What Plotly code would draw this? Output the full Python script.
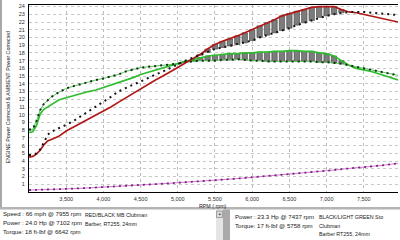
import plotly.graph_objects as go

# ---------------- data ----------------
rpm = [3000, 3050, 3100, 3150, 3200, 3250, 3300, 3400, 3500, 3600, 3700, 3800, 3900,
       4000, 4100, 4200, 4300, 4400, 4500, 4600, 4700, 4800, 4900, 5000, 5100, 5200,
       5300, 5400, 5500, 5600, 5700, 5800, 5900, 6000, 6100, 6200, 6300, 6400, 6500,
       6600, 6700, 6800, 6900, 7000, 7100, 7200, 7300, 7400, 7500, 7600, 7700, 7800,
       7900, 7960]

red_power = [4.5, 4.6, 4.9, 5.4, 6.1, 6.6, 6.8, 7.2, 7.9, 8.4, 8.9, 9.4, 9.9,
             10.4, 11.0, 11.6, 12.2, 12.8, 13.4, 14.0, 14.5, 15.0, 15.5, 16.1, 16.7, 17.2,
             17.8, 18.5, 19.1, 19.5, 19.8, 20.2, 20.6, 21.0, 21.5, 21.9, 22.3, 22.8, 23.1,
             23.4, 23.6, 23.9, 24.0, 24.0, 24.0, 23.6, 23.3, 23.2, 23.0, 22.8, 22.6, 22.4,
             22.2, 22.0]

black_power = [4.8, 4.8, 5.0, 5.5, 6.4, 7.4, 7.8, 8.2, 8.7, 9.2, 9.8, 10.4, 11.1,
               11.7, 12.3, 13.0, 13.5, 13.9, 14.3, 14.8, 15.2, 15.6, 16.0, 16.5, 17.0, 17.4,
               17.7, 18.1, 18.5, 18.7, 18.9, 19.1, 19.3, 19.6, 20.0, 20.3, 20.6, 20.9, 21.2,
               21.6, 21.9, 22.2, 22.6, 22.8, 23.0, 23.2, 23.3, 23.3, 23.3, 23.2, 23.1, 23.0,
               22.9, 22.9]

green_torque = [7.7, 7.8, 8.6, 10.1, 10.7, 11.0, 11.3, 11.9, 12.2, 12.5, 12.8, 13.0, 13.2,
                13.5, 13.8, 14.1, 14.4, 14.8, 15.2, 15.5, 15.8, 16.1, 16.4, 16.6, 16.9, 17.1,
                17.4, 17.6, 17.7, 17.8, 17.9, 17.9, 18.0, 18.0, 18.1, 18.1, 18.2, 18.2, 18.3,
                18.3, 18.2, 18.2, 18.0, 17.9, 17.6, 17.0, 16.4, 16.0, 15.8, 15.6, 15.3, 15.0,
                14.7, 14.5]

green_dot_torque = [8.1, 8.1, 9.2, 10.6, 11.4, 11.9, 12.3, 12.9, 13.4, 13.7, 14.0, 14.3, 14.5,
                    14.7, 14.9, 15.2, 15.6, 15.9, 16.1, 16.2, 16.3, 16.4, 16.5, 16.6, 16.8, 16.9,
                    17.0, 17.0, 17.0, 17.1, 17.1, 17.2, 17.1, 17.0, 17.0, 16.9, 16.9, 16.9, 16.9,
                    16.9, 16.9, 16.9, 16.8, 16.8, 16.7, 16.6, 16.4, 16.2, 16.0, 15.8, 15.6, 15.4,
                    15.2, 15.1]

speed_rpm = [3000, 3250, 3500, 3750, 4000, 4250, 4500, 4750, 5000, 5250, 5500,
             5750, 6000, 6250, 6500, 6750, 7000, 7250, 7500, 7750, 7960]
speed_vals = [0.25, 0.3, 0.4, 0.5, 0.62, 0.75, 0.9, 1.05, 1.2, 1.35, 1.5,
              1.7, 1.9, 2.1, 2.3, 2.5, 2.75, 3.0, 3.2, 3.45, 3.7]

x_ticks = [3500, 4000, 4500, 5000, 5500, 6000, 6500, 7000, 7500]
y_ticks = list(range(1, 25))

left_info = ["Speed : 66 mph @ 7955 rpm", "Power : 24.0 Hp @ 7102 rpm", "Torque: 18 ft-lbf @ 6642 rpm"]
left_name = ["RED/BLACK MB Clubman", "Barber, RT255, 24mm"]
right_info = ["Power : 23.3 Hp @ 7437 rpm", "Torque: 17 ft-lbf @ 5758 rpm"]
right_name = ["BLACK/LIGHT GREEN Sto", "Clubman", "Barber RT255, 24mm"]

# ---------------- layout helpers (pixel -> paper) ----------------
L, R, T, B = 29, 398, 5, 192
def px(x):
    return (x - L) / (R - L)
def py(y):
    return (B - y) / (B - T)

FONT = "Liberation Sans, Arial, sans-serif"
fig = go.Figure()

# hatch bars between run curves where run 1 is above run 2
def hatch(upper, lower):
    idx = [i for i in range(len(rpm)) if upper[i] > lower[i]]
    fig.add_trace(go.Bar(x=[rpm[i] for i in idx],
                         y=[upper[i] - lower[i] for i in idx],
                         base=[lower[i] for i in idx],
                         width=72,
                         marker=dict(color="#7c7c7c", line=dict(color="#3c3c3c", width=0.6)),
                         hoverinfo="skip"))

hatch(red_power, black_power)
hatch(green_torque, green_dot_torque)

# speed
fig.add_trace(go.Scatter(x=speed_rpm, y=speed_vals, mode="lines",
                         line=dict(color="#e070e0", width=1)))
fig.add_trace(go.Scatter(x=speed_rpm, y=speed_vals, mode="lines",
                         line=dict(color="#6a306a", width=1.8, dash="2px,4px")))

# torque
fig.add_trace(go.Scatter(x=rpm, y=green_dot_torque, mode="lines",
                         line=dict(color="#55cc55", width=1)))
fig.add_trace(go.Scatter(x=rpm, y=green_torque, mode="lines",
                         line=dict(color="#2ebd2e", width=1.7)))
fig.add_trace(go.Scatter(x=rpm, y=green_dot_torque, mode="lines",
                         line=dict(color="#1a2a1a", width=2, dash="2px,4px")))

# power
fig.add_trace(go.Scatter(x=rpm, y=red_power, mode="lines",
                         line=dict(color="#b01818", width=1.7)))
fig.add_trace(go.Scatter(x=rpm, y=black_power, mode="lines",
                         line=dict(color="#151515", width=2, dash="2px,4px")))

shapes = [
    # left window edge
    dict(type="rect", xref="paper", yref="paper", x0=px(0), x1=px(2), y0=py(0), y1=py(207),
         fillcolor="#a8a8a8", line=dict(width=0), layer="above"),
    # separator between chart and info panels
    dict(type="rect", xref="paper", yref="paper", x0=px(0), x1=px(400), y0=py(207), y1=py(209.5),
         fillcolor="#b4b4b4", line=dict(width=0)),
    # scrollbar
    dict(type="rect", xref="paper", yref="paper", x0=px(216), x1=px(223), y0=py(209.5), y1=py(240),
         fillcolor="#e4e4e4", line=dict(width=0)),
    dict(type="rect", xref="paper", yref="paper", x0=px(216.5), x1=px(222.5), y0=py(211), y1=py(217.5),
         fillcolor="#d8d8d8", line=dict(color="#909090", width=0.8)),
    # splitter
    dict(type="rect", xref="paper", yref="paper", x0=px(223), x1=px(230), y0=py(209.5), y1=py(240),
         fillcolor="#a9a9a9", line=dict(width=0)),
]

ann = []
def text(x, y, s, size, color="#202020", **kw):
    ann.append(dict(x=px(x), y=py(y), xref="paper", yref="paper", text=s, showarrow=False,
                    xanchor=kw.get("xanchor", "left"), yanchor="middle",
                    font=dict(size=size, color=color, family=FONT), textangle=kw.get("angle", 0)))

for i, s in enumerate(left_info):
    text(0.5, 213 + 9 * i, s, 6.1)
for i, s in enumerate(left_name):
    text(83, 215 + 9 * i, s, 5.3)
for i, s in enumerate(right_info):
    text(233, 216 + 9 * i, s, 6.1)
for i, s in enumerate(right_name):
    text(317, 217 + 8.5 * i, s, 5.3)
text(219.5, 214.2, "▲", 3.5, color="#404040", xanchor="center")
text(213, 205.5, "RPM ( rpm)", 5.3, xanchor="center")
text(7.5, 98, "ENGINE Power Corrected & AMBIENT Power Corrected", 5.3, xanchor="center", angle=-90)

fig.update_layout(
    width=400, height=240,
    margin=dict(l=L, r=400 - R, t=T, b=240 - B),
    paper_bgcolor="white", plot_bgcolor="white",
    showlegend=False, barmode="overlay",
    shapes=shapes, annotations=ann,
    xaxis=dict(range=[3000, 7960], tickvals=x_ticks, tickformat=",d",
               showgrid=True, gridcolor="#bdbdbd", griddash="dot", gridwidth=1,
               showline=True, linecolor="#000000", linewidth=1, mirror=True,
               zeroline=False, ticks="", ticklabelstandoff=1,
               tickfont=dict(size=5.5, color="#303030", family=FONT)),
    yaxis=dict(range=[0, 24.2], tickvals=y_ticks,
               showgrid=True, gridcolor="#c8c8c8", griddash="dot", gridwidth=1,
               showline=True, linecolor="#000000", linewidth=1,
               zeroline=False, ticks="", ticklabelstandoff=2,
               tickfont=dict(size=5.5, color="#303030", family=FONT)),
)

fig.write_html("out.html")
